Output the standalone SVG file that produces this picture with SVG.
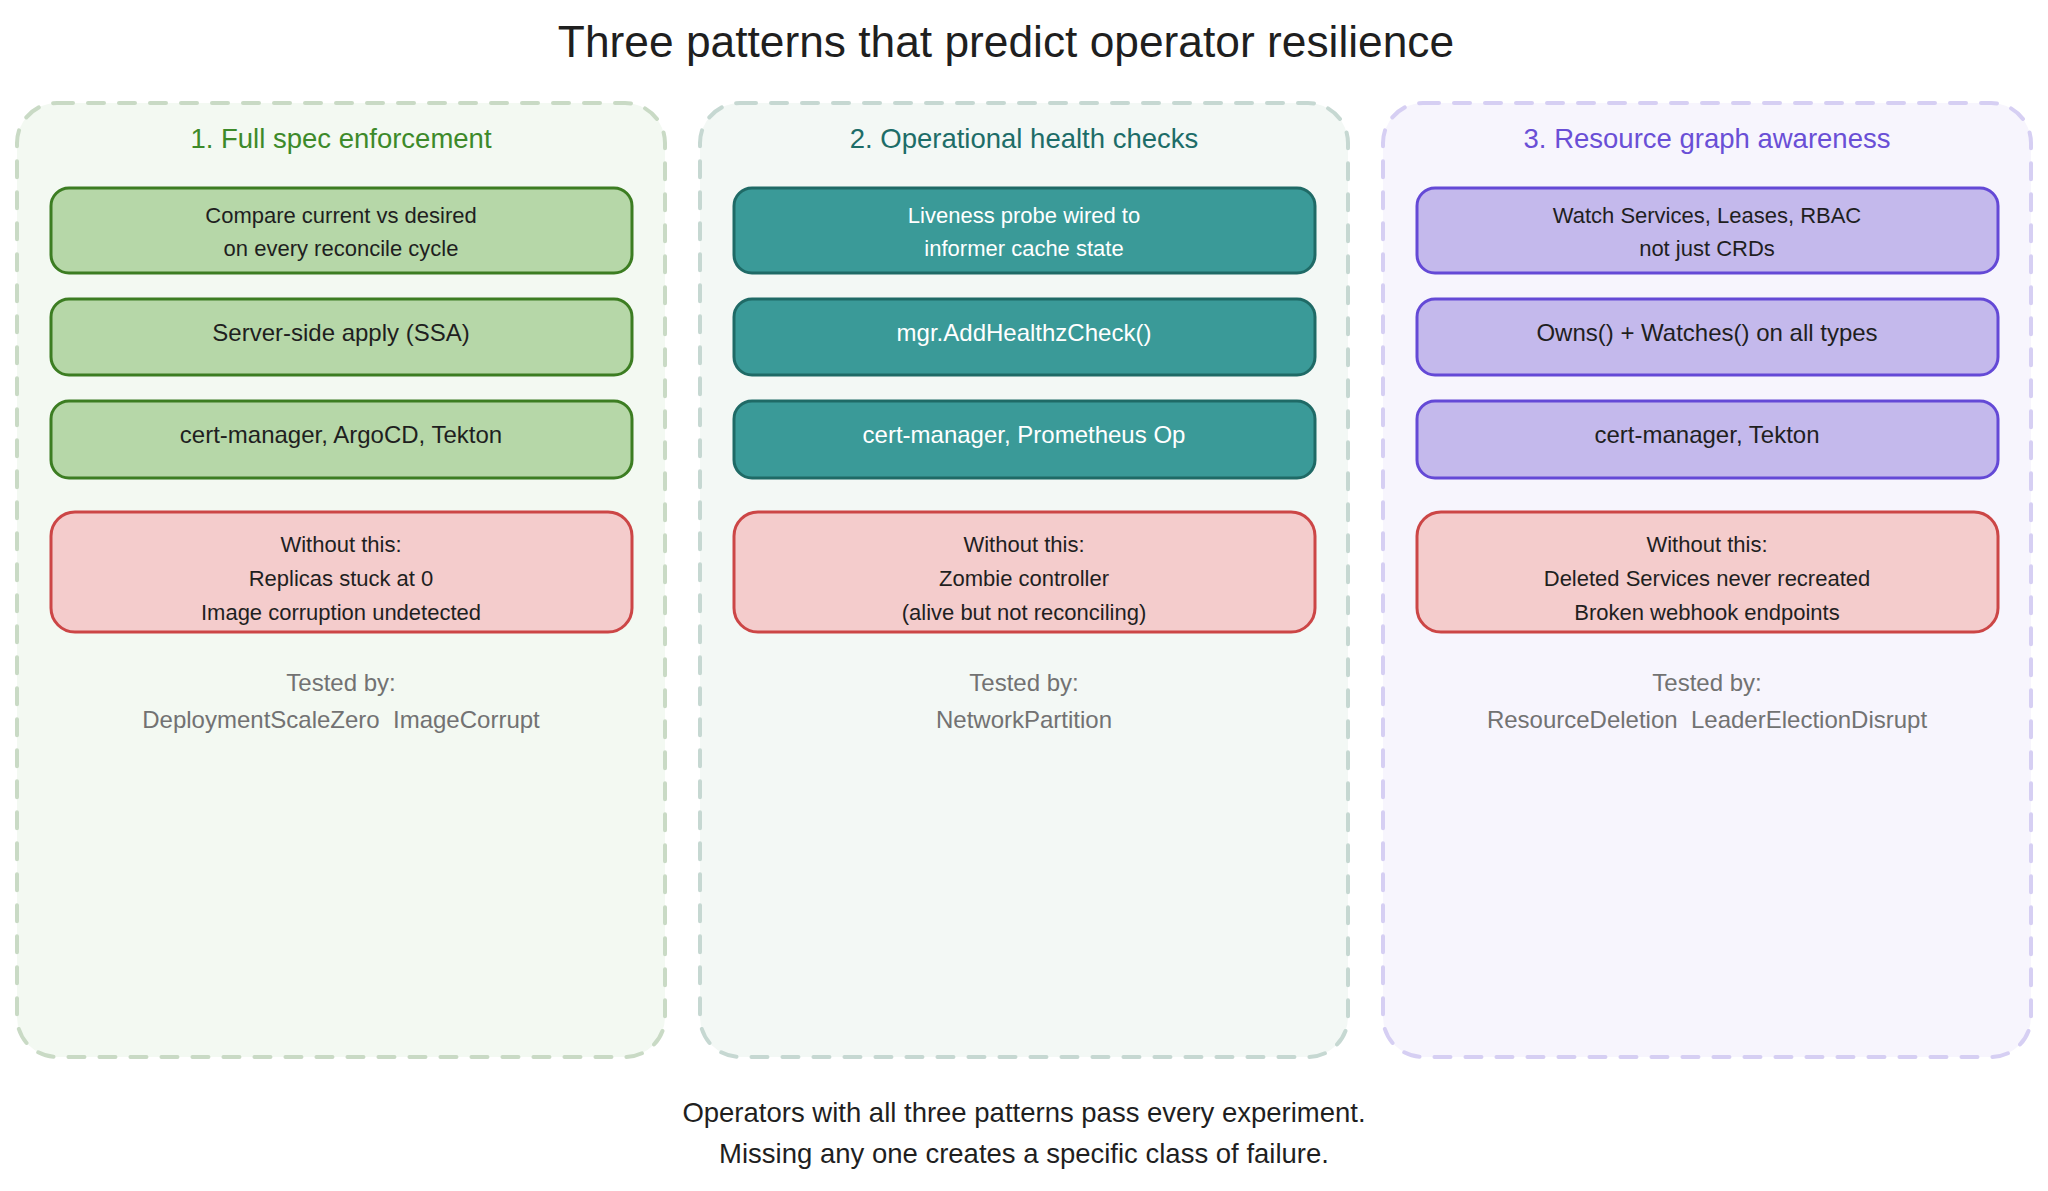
<svg xmlns="http://www.w3.org/2000/svg" width="2048" height="1191" viewBox="0 0 2048 1191">
<style>
text{font-family:"Liberation Sans",Arial,Helvetica,sans-serif;text-anchor:middle}
.title{font-size:44.3px;fill:#1f1f1f}
.hdr{font-size:27.5px}
.lbl{font-size:22px;fill:#1f1f1f}
.lbl1{font-size:24px;fill:#1f1f1f}
.wt{fill:#ffffff}
.tested{font-size:24px;fill:#727272}
.foot{font-size:27.5px;fill:#1f1f1f}
.panel{stroke-width:4;stroke-dasharray:16 15;stroke-linecap:round}
.box{stroke-width:3}
.g{fill:#b6d7a8;stroke:#3c7d22}
.t{fill:#3a9a98;stroke:#1f6a66}
.p{fill:#c4b9ec;stroke:#6449d6}
.r{fill:#f4cccc;stroke:#cc4646}
</style>
<rect width="2048" height="1191" fill="#ffffff"/>
<text class="title" x="1006" y="57">Three patterns that predict operator resilience</text>

<g id="panel1">
<rect class="panel" x="17" y="103" width="648" height="954" rx="40" fill="#f3f9f2" stroke="#c9dac5"/>
<text class="hdr" x="341" y="148" fill="#3d8a2a">1. Full spec enforcement</text>
<g id="p1-box1"><rect class="box g" x="51" y="188" width="581" height="85" rx="18"/>
<text class="lbl" x="341" y="223">Compare current vs desired</text>
<text class="lbl" x="341" y="256">on every reconcile cycle</text></g>
<g id="p1-box2"><rect class="box g" x="51" y="299" width="581" height="76" rx="18"/>
<text class="lbl1" x="341" y="341">Server-side apply (SSA)</text></g>
<g id="p1-box3"><rect class="box g" x="51" y="401" width="581" height="77" rx="18"/>
<text class="lbl1" x="341" y="443">cert-manager, ArgoCD, Tekton</text></g>
<g id="p1-fail"><rect class="box r" x="51" y="512" width="581" height="120" rx="24"/>
<text class="lbl" x="341" y="551.5">Without this:</text>
<text class="lbl" x="341" y="585.5">Replicas stuck at 0</text>
<text class="lbl" x="341" y="619.5">Image corruption undetected</text></g>
<text class="tested" x="341" y="691">Tested by:</text>
<text class="tested" x="341" y="727.5" xml:space="preserve">DeploymentScaleZero  ImageCorrupt</text>
</g>

<g id="panel2">
<rect class="panel" x="700" y="103" width="648" height="954" rx="40" fill="#f3f8f5" stroke="#c6d8d2"/>
<text class="hdr" x="1024" y="148" fill="#1d6d68">2. Operational health checks</text>
<g id="p2-box1"><rect class="box t" x="734" y="188" width="581" height="85" rx="18"/>
<text class="lbl wt" x="1024" y="223">Liveness probe wired to</text>
<text class="lbl wt" x="1024" y="256">informer cache state</text></g>
<g id="p2-box2"><rect class="box t" x="734" y="299" width="581" height="76" rx="18"/>
<text class="lbl1 wt" x="1024" y="341">mgr.AddHealthzCheck()</text></g>
<g id="p2-box3"><rect class="box t" x="734" y="401" width="581" height="77" rx="18"/>
<text class="lbl1 wt" x="1024" y="443">cert-manager, Prometheus Op</text></g>
<g id="p2-fail"><rect class="box r" x="734" y="512" width="581" height="120" rx="24"/>
<text class="lbl" x="1024" y="551.5">Without this:</text>
<text class="lbl" x="1024" y="585.5">Zombie controller</text>
<text class="lbl" x="1024" y="619.5">(alive but not reconciling)</text></g>
<text class="tested" x="1024" y="691">Tested by:</text>
<text class="tested" x="1024" y="727.5">NetworkPartition</text>
</g>

<g id="panel3">
<rect class="panel" x="1383" y="103" width="648" height="954" rx="40" fill="#f7f5fd" stroke="#d6cff3"/>
<text class="hdr" x="1707" y="148" fill="#6a4fd6">3. Resource graph awareness</text>
<g id="p3-box1"><rect class="box p" x="1417" y="188" width="581" height="85" rx="18"/>
<text class="lbl" x="1707" y="223">Watch Services, Leases, RBAC</text>
<text class="lbl" x="1707" y="256">not just CRDs</text></g>
<g id="p3-box2"><rect class="box p" x="1417" y="299" width="581" height="76" rx="18"/>
<text class="lbl1" x="1707" y="341">Owns() + Watches() on all types</text></g>
<g id="p3-box3"><rect class="box p" x="1417" y="401" width="581" height="77" rx="18"/>
<text class="lbl1" x="1707" y="443">cert-manager, Tekton</text></g>
<g id="p3-fail"><rect class="box r" x="1417" y="512" width="581" height="120" rx="24"/>
<text class="lbl" x="1707" y="551.5">Without this:</text>
<text class="lbl" x="1707" y="585.5">Deleted Services never recreated</text>
<text class="lbl" x="1707" y="619.5">Broken webhook endpoints</text></g>
<text class="tested" x="1707" y="691">Tested by:</text>
<text class="tested" x="1707" y="727.5" xml:space="preserve">ResourceDeletion  LeaderElectionDisrupt</text>
</g>

<g id="connectors"></g>

<text class="foot" x="1024" y="1121.5">Operators with all three patterns pass every experiment.</text>
<text class="foot" x="1024" y="1162.5">Missing any one creates a specific class of failure.</text>
</svg>
